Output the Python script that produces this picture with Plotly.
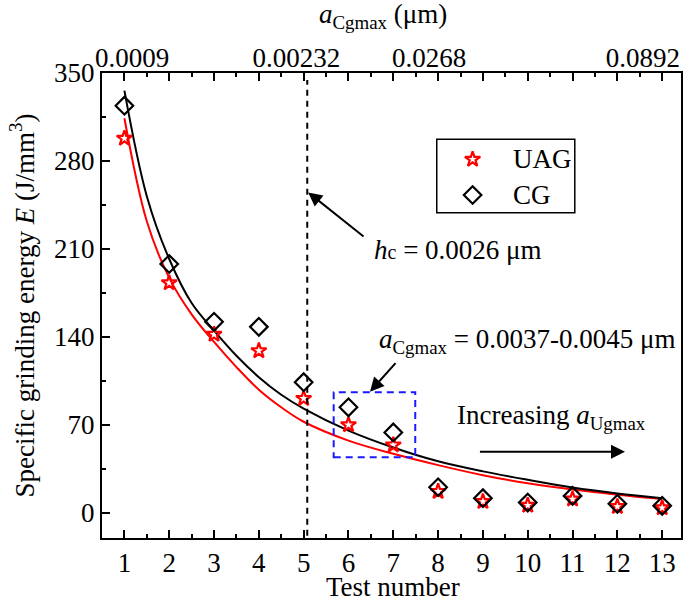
import plotly.graph_objects as go

# ---- data ----
test_no = [1, 2, 3, 4, 5, 6, 7, 8, 9, 10, 11, 12, 13]
uag = [298, 183, 142, 129, 91, 70, 54, 17, 9, 6, 11, 5, 4]
cg = [324, 198, 152, 148, 104, 84, 64, 20.4, 11.7, 8.2, 13.5, 7.2, 5.6]

fit_x = [1, 1.5, 2, 2.5, 3, 3.5, 4, 4.5, 5, 6, 7, 8, 9, 10, 11, 12, 13]
cg_fit = [336, 252, 202, 167, 145, 125, 108, 94, 83, 65.5, 52, 41, 33, 26.3, 20.2, 15.5, 11.7]
uag_fit = [314, 232, 187, 158, 136, 116, 98, 84, 72.5, 57.5, 47, 38, 30, 23.5, 18.5, 14.5, 11]

y_ticks = [0, 70, 140, 210, 280, 350]
top_tick_pos = [1.17, 4.84, 7.80, 12.57]
top_tick_text = ["0.0009", "0.00232", "0.0268", "0.0892"]
hc_x = 5.08

legend_labels = ["UAG", "CG"]
legend_sym_x = 8.77
legend_sym_y = [281.3, 252.9]
legend_text_x = 9.62
legend_box = dict(x0=7.97, x1=11.05, y0=238.8, y1=297.2)

FONT = "Liberation Serif"
FS = 27
RED = "#ff0000"

fig = go.Figure()
fig.add_trace(go.Scatter(x=fit_x, y=uag_fit, mode="lines", line=dict(color=RED, width=2, shape="spline"),
                         showlegend=False, hoverinfo="skip"))
fig.add_trace(go.Scatter(x=fit_x, y=cg_fit, mode="lines", line=dict(color="black", width=2, shape="spline"),
                         showlegend=False, hoverinfo="skip"))
star = dict(symbol="star-open", size=11.5, color=RED, line=dict(width=2.2, color=RED))
diam = dict(symbol="diamond-open", size=13.5, color="black", line=dict(width=2.2, color="black"))
fig.add_trace(go.Scatter(x=test_no, y=uag, mode="markers", name=legend_labels[0], marker=star, showlegend=False))
fig.add_trace(go.Scatter(x=test_no, y=cg, mode="markers", name=legend_labels[1], marker=diam, showlegend=False))

# legend (drawn inside the plot like the original)
fig.add_shape(type="rect", xref="x", yref="y", line=dict(color="black", width=1.5), fillcolor="white",
              layer="below", **legend_box)
fig.add_trace(go.Scatter(x=[legend_sym_x], y=[legend_sym_y[0]], mode="markers", marker=star,
                         showlegend=False, hoverinfo="skip"))
fig.add_trace(go.Scatter(x=[legend_sym_x], y=[legend_sym_y[1]], mode="markers", marker=diam,
                         showlegend=False, hoverinfo="skip"))

# invisible trace to carry the top axis
fig.add_trace(go.Scatter(x=[test_no[0], test_no[-1]], y=[None, None], xaxis="x2", showlegend=False, hoverinfo="skip"))

# vertical dashed line at h_c
fig.add_shape(type="line", x0=hc_x, x1=hc_x, xref="x", y0=0.005, y1=0.985, yref="paper",
              line=dict(color="black", width=2, dash="6px,5px"))
# blue dashed box
fig.add_shape(type="rect", x0=5.67, x1=7.49, y0=44.2, y1=95.9, xref="x", yref="y",
              line=dict(color="#1a1aff", width=2, dash="7px,5px"))

axis_common = dict(showline=True, linecolor="black", linewidth=2, ticks="inside", tickcolor="black",
                   tickwidth=2, ticklen=8, showgrid=False, zeroline=False, automargin=False,
                   tickfont=dict(family=FONT, size=FS, color="black"))

annotations = [
    dict(text="<i>a</i><sub>Cgmax</sub> (μm)", xref="paper", yref="paper", x=0.372, y=1.0, yshift=57,
         xanchor="left", yanchor="middle", showarrow=False, font=dict(family=FONT, size=FS)),
    dict(text="Test number", xref="paper", yref="paper", x=0.503, y=0, yshift=-49,
         yanchor="middle", showarrow=False, font=dict(family=FONT, size=FS)),
    dict(text="<i>h</i><span style='font-size:20px'>c</span> = 0.0026 μm", x=6.52, y=209, xref="x", yref="y",
         xanchor="left", yanchor="middle", showarrow=False, font=dict(family=FONT, size=FS)),
    dict(text="", x=5.10, y=255, ax=6.37, ay=219, xref="x", yref="y", axref="x", ayref="y",
         showarrow=True, arrowhead=2, arrowsize=1.4, arrowwidth=2, arrowcolor="black"),
    dict(text="<i>a</i><sub>Cgmax</sub> = 0.0037-0.0045 μm", x=6.64, y=137, xref="x", yref="y",
         xanchor="left", yanchor="middle", showarrow=False, font=dict(family=FONT, size=FS)),
    dict(text="", x=6.48, y=96.4, ax=7.08, ay=120.3, xref="x", yref="y", axref="x", ayref="y",
         showarrow=True, arrowhead=2, arrowsize=1.4, arrowwidth=2, arrowcolor="black"),
    dict(text="Increasing <i>a</i><sub>Ugmax</sub>", x=8.38, y=76, xref="x", yref="y",
         xanchor="left", yanchor="middle", showarrow=False, font=dict(family=FONT, size=FS)),
    dict(text="", x=12.17, y=48.7, ax=8.90, ay=48.7, xref="x", yref="y", axref="x", ayref="y",
         showarrow=True, arrowhead=2, arrowsize=1.4, arrowwidth=2, arrowcolor="black"),
]
for lab, ly in zip(legend_labels, legend_sym_y):
    annotations.append(dict(text=lab, x=legend_text_x, y=ly, xref="x", yref="y", xanchor="left",
                            yanchor="middle", showarrow=False, font=dict(family=FONT, size=FS)))

fig.update_layout(
    width=685, height=600,
    margin=dict(l=102, r=4, t=73, b=62),
    paper_bgcolor="white", plot_bgcolor="white",
    font=dict(family=FONT, size=FS, color="black"),
    showlegend=False,
    xaxis=dict(range=[0.5, 13.42], tickvals=test_no, mirror="ticks",
               minor=dict(dtick=0.5, ticks="inside", ticklen=4, tickwidth=2, tickcolor="black"),
               **axis_common),
    xaxis2=dict(range=[0.5, 13.42], overlaying="x", side="top", tickvals=top_tick_pos, ticktext=top_tick_text,
                ticks="", showline=False, showgrid=False, zeroline=False, automargin=False,
                tickfont=dict(family=FONT, size=FS, color="black")),
    yaxis=dict(range=[-20, 350], tickvals=y_ticks, mirror=True,
               minor=dict(dtick=35, tick0=0, ticks="inside", ticklen=4, tickwidth=2, tickcolor="black"),
               title=dict(text="Specific grinding energy <i>E</i> (J/mm<sup>3</sup>)", font=dict(family=FONT, size=FS), standoff=12),
               **axis_common),
    annotations=annotations,
)

fig.write_html("out.html", config={"displayModeBar": False},
               post_script="document.body.style.margin='0';")
